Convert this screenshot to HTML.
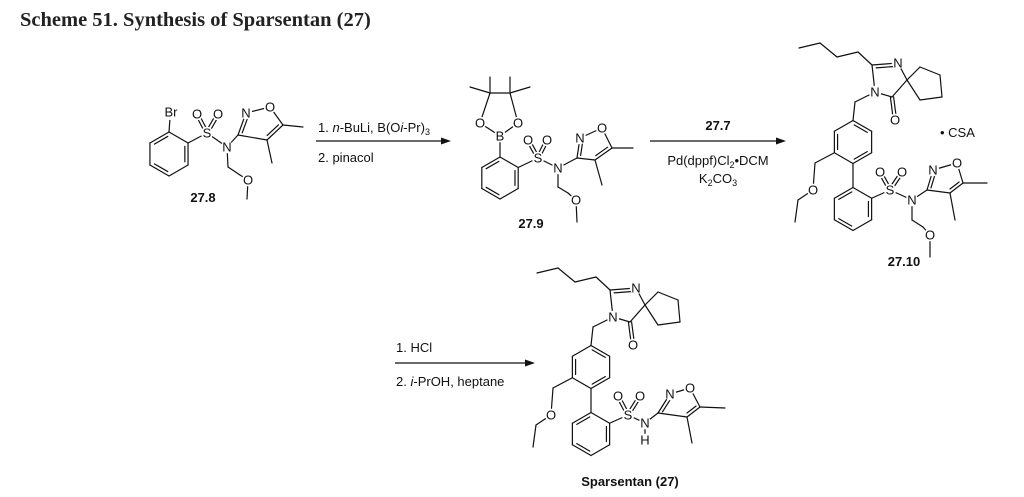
<!DOCTYPE html>
<html><head><meta charset="utf-8"><style>
html,body{margin:0;padding:0;background:#fff;width:1024px;height:497px;overflow:hidden}
svg{display:block}
.t{font-family:"Liberation Sans",sans-serif;font-size:13px;fill:#111}
.a{font-family:"Liberation Sans",sans-serif;font-size:13px;fill:#111;text-anchor:middle}
.b{font-family:"Liberation Sans",sans-serif;font-size:13px;font-weight:bold;fill:#111;text-anchor:middle}
</style></head><body>
<svg id="s" width="1024" height="497" viewBox="0 0 1024 497" xmlns="http://www.w3.org/2000/svg">
<text x="20" y="26" font-family="Liberation Serif,serif" font-size="20.5" font-weight="bold" fill="#222">Scheme 51. Synthesis of Sparsentan (27)</text>
<g id="bonds" stroke="#111" stroke-width="1.2" fill="none" stroke-linecap="round"></g>
<g id="arrows" stroke="#111" stroke-width="1.2">
<line x1="316" y1="141" x2="445" y2="141"/><polygon points="451,141 441,137.5 441,144.5" fill="#111" stroke="none"/>
<line x1="650" y1="141" x2="780" y2="141"/><polygon points="786,141 776,137.5 776,144.5" fill="#111" stroke="none"/>
<line x1="395" y1="363" x2="528" y2="363"/><polygon points="535,363 525,359.5 525,366.5" fill="#111" stroke="none"/>
</g>
<text class="t" x="318" y="132">1. <tspan font-style="italic">n</tspan>-BuLi, B(O<tspan font-style="italic">i</tspan>-Pr)<tspan font-size="9" dy="3">3</tspan></text>
<text class="t" x="318" y="162">2. pinacol</text>
<text class="b" x="718" y="130">27.7</text>
<text class="t" x="718" y="165" text-anchor="middle">Pd(dppf)Cl<tspan font-size="9" dy="3">2</tspan><tspan dy="-3">•DCM</tspan></text>
<text class="t" x="718" y="183" text-anchor="middle">K<tspan font-size="9" dy="3">2</tspan><tspan dy="-3">CO</tspan><tspan font-size="9" dy="3">3</tspan></text>
<text class="t" x="396" y="352">1. HCl</text>
<text class="t" x="396" y="386">2. <tspan font-style="italic">i</tspan>-PrOH, heptane</text>
<text class="b" x="203" y="202">27.8</text>
<text class="b" x="531" y="228">27.9</text>
<text class="b" x="904" y="266">27.10</text>
<text class="b" x="630" y="486">Sparsentan (27)</text>
<text class="t" x="940" y="137">• CSA</text>
<g id="atoms"></g>
</svg>
<script>
var B=document.getElementById('bonds'),A=document.getElementById('atoms'),NS='http://www.w3.org/2000/svg';
function L(a,b,c,d){var l=document.createElementNS(NS,'line');l.setAttribute('x1',a);l.setAttribute('y1',b);l.setAttribute('x2',c);l.setAttribute('y2',d);B.appendChild(l);}
function P(pts){for(var i=0;i<pts.length-1;i++)L(pts[i][0],pts[i][1],pts[i+1][0],pts[i+1][1]);}
function inner(p,q,c){var dx=q[0]-p[0],dy=q[1]-p[1],len=Math.hypot(dx,dy);var mx=(p[0]+q[0])/2,my=(p[1]+q[1])/2;var nx=-dy/len,ny=dx/len;if((c[0]-mx)*nx+(c[1]-my)*ny<0){nx=-nx;ny=-ny;}var o=3.2,s=0.15;L(p[0]+dx*s+nx*o,p[1]+dy*s+ny*o,q[0]-dx*s+nx*o,q[1]-dy*s+ny*o);}
function R(pts,dbl){var cx=0,cy=0;pts.forEach(function(p){cx+=p[0];cy+=p[1]});cx/=pts.length;cy/=pts.length;for(var i=0;i<pts.length;i++){var p=pts[i],q=pts[(i+1)%pts.length];L(p[0],p[1],q[0],q[1]);if(dbl.indexOf(i)>=0)inner(p,q,[cx,cy]);}}
function D(p,q,side){var dx=q[0]-p[0],dy=q[1]-p[1],len=Math.hypot(dx,dy),nx=-dy/len*1.6,ny=dx/len*1.6;L(p[0]+nx,p[1]+ny,q[0]+nx,q[1]+ny);L(p[0]-nx,p[1]-ny,q[0]-nx,q[1]-ny);}
function T(x,y,s){var c=document.createElementNS(NS,'circle');c.setAttribute('cx',x);c.setAttribute('cy',y);c.setAttribute('r',s.length>1?8:6.2);c.setAttribute('fill','#fff');A.appendChild(c);var t=document.createElementNS(NS,'text');t.setAttribute('x',x);t.setAttribute('y',y+4.7);t.setAttribute('class','a');t.textContent=s;A.appendChild(t);}
function hex(cx,cy,r){var p=[];for(var i=0;i<6;i++){var a=(-90+60*i)*Math.PI/180;p.push([cx+r*Math.cos(a),cy+r*Math.sin(a)]);}return p;}
function iso(S,N,C3,Ni,O,C5,C4,m5,m4){L(S[0],S[1],N[0],N[1]);L(N[0],N[1],C3[0],C3[1]);R([C3,Ni,O,C5,C4],[]);var c=[(C3[0]+O[0]+C4[0])/3,(C3[1]+O[1]+C4[1])/3];inner(C3,Ni,c);inner(C5,C4,c);L(C5[0],C5[1],m5[0],m5[1]);L(C4[0],C4[1],m4[0],m4[1]);T(Ni[0],Ni[1],'N');T(O[0],O[1],'O');}
function SO2(S,o1,o2){D(S,o1);D(S,o2);T(o1[0],o1[1],'O');T(o2[0],o2[1],'O');T(S[0],S[1],'S');}
var h=hex(169,154,22);R(h,[1,3,5]);
L(h[0][0],h[0][1],170,118);T(171,112,'Br');
L(h[1][0],h[1][1],207,133);
SO2([207,133],[197,114],[218,114]);
iso([207,133],[227,147],[238,135],[246,113],[270,107],[283,125],[267,140],[303,127],[272,163]);
P([[227,147],[228,167],[240,175],[248,180],[247,199]]);T(227,147,'N');T(248,180,'O');
h=hex(500,178,21);R(h,[1,3,5]);
L(h[0][0],h[0][1],500,136);
P([[500,136],[480,123],[490,93],[510,93],[518,123],[500,136]]);
L(490,93,470,87);L(490,93,490,77);L(510,93,510,77);L(510,93,530,87);
T(480,123,'O');T(518,123,'O');T(500,136,'B');
L(h[1][0],h[1][1],538,158);
SO2([538,158],[528,140],[547,140]);
iso([538,158],[558,168],[577,158],[580,138],[602,128],[612,148],[595,160],[633,148],[602,185]);
P([[558,168],[558,187],[568,193],[576,200],[577,222]]);T(558,168,'N');T(576,200,'O');
function big(ox,oy){
 var q=function(x,y){return [x+ox,y+oy];};
 P([q(799,48),q(820,43),q(837,57),q(858,52),q(872,65)]);
 var C2=q(872,65),Nd=q(898,63),Sp=q(907,80),CO=q(892,97),N1=q(875,92);
 L(C2[0],C2[1],Nd[0],Nd[1]);inner(C2,Nd,q(890,80));L(Nd[0],Nd[1],Sp[0],Sp[1]);L(Sp[0],Sp[1],CO[0],CO[1]);L(CO[0],CO[1],N1[0],N1[1]);L(N1[0],N1[1],C2[0],C2[1]);
 var Oc=q(895,120);D(CO,Oc);
 R([Sp,q(920,67),q(940,75),q(942,97),q(920,100)],[]);
 var ha=hex(853+ox,142+oy,21.5);R(ha,[0,2,4]);
 P([N1,q(855,102),ha[0]]);
 P([ha[4],q(815,163),q(813,190),q(798,200),q(795,222)]);
 var hb=hex(853+ox,209+oy,21.5);L(ha[3][0],ha[3][1],hb[0][0],hb[0][1]);R(hb,[1,3,5]);
 L(hb[1][0],hb[1][1],890+ox,190+oy);
 T(Nd[0],Nd[1],'N');T(N1[0],N1[1],'N');T(Oc[0],Oc[1],'O');T(813+ox,190+oy,'O');
}
big(0,0);
SO2([890,190],[880,172],[902,172]);
iso([890,190],[912,200],[927,190],[933,170],[957,163],[963,183],[950,193],[987,183],[955,220]);
P([[912,200],[912,220],[923,227],[930,235],[930,257]]);T(912,200,'N');T(930,235,'O');
big(-262,225);
SO2([628,415],[618,396],[640,396]);
iso([628,415],[645,423],[658,413],[670,394],[690,388],[700,407],[687,417],[725,408],[692,443]);
L(645,423,645,440);T(645,423,'N');T(645,440,'H');
</script>
</body></html>
